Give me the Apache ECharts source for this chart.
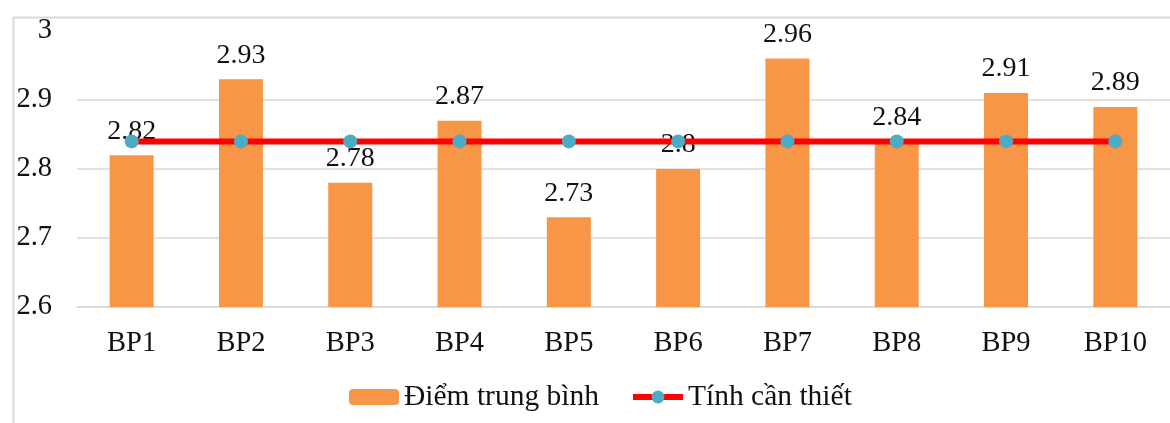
<!DOCTYPE html>
<html>
<head>
<meta charset="utf-8">
<script src="https://cdn.jsdelivr.net/npm/echarts@6/dist/echarts.min.js"></script>
<style>
  html, body { margin: 0; padding: 0; background: #fff; }
  #chart { width: 1170px; height: 423px; }
</style>
</head>
<body>
<div id="chart"></div>
<script>
// Categories and values
const categories = ['BP1', 'BP2', 'BP3', 'BP4', 'BP5', 'BP6', 'BP7', 'BP8', 'BP9', 'BP10'];
const averageScore = [2.82, 2.93, 2.78, 2.87, 2.73, 2.8, 2.96, 2.84, 2.91, 2.89];
const necessity = [2.84, 2.84, 2.84, 2.84, 2.84, 2.84, 2.84, 2.84, 2.84, 2.84];
const seriesNames = ['Điểm trung bình', 'Tính cần thiết'];
const yMin = 2.6, yMax = 3, yStep = 0.1;

const FONT = '"Liberation Serif", "Times New Roman", serif';
const TEXT = '#111111';
const GRID = '#d9d9d9';

const chart = echarts.init(document.getElementById('chart'), null, { renderer: 'canvas' });

chart.setOption({
  animation: false,
  backgroundColor: '#ffffff',
  textStyle: { fontFamily: FONT, color: TEXT },
  graphic: [{
    type: 'rect',
    left: 11, top: 15,
    shape: { width: 1200, height: 500 },
    style: { fill: 'none', stroke: GRID, lineWidth: 2 },
    silent: true,
    z: -1
  }],
  grid: { left: 77, top: 31, width: 1102, height: 276, containLabel: false },
  legend: {
    left: 344, top: 377,
    itemWidth: 50, itemHeight: 16, itemGap: 31,
    lineStyle: { width: 6 },
    textStyle: { fontFamily: FONT, fontSize: 29.5, color: TEXT },
    data: seriesNames
  },
  xAxis: {
    type: 'category',
    data: categories,
    axisLine: { show: true, lineStyle: { color: GRID, width: 1.5 } },
    axisTick: { show: false },
    axisLabel: { fontFamily: FONT, fontSize: 28.5, color: TEXT, margin: 22 }
  },
  yAxis: {
    type: 'value',
    min: yMin, max: yMax, interval: yStep,
    axisLine: { show: false },
    axisTick: { show: false },
    splitLine: { show: true, showMaxLine: false, lineStyle: { color: GRID, width: 1.5 } },
    axisLabel: {
      fontFamily: FONT, fontSize: 28.5, color: TEXT, margin: 25,
      formatter: v => String(Math.round(v * 10) / 10)
    }
  },
  series: [
    {
      name: seriesNames[0],
      type: 'bar',
      data: averageScore,
      barWidth: 44,
      itemStyle: { color: '#f79646' },
      label: {
        show: true, position: 'top', distance: 10,
        fontFamily: FONT, fontSize: 28, color: TEXT,
        formatter: p => String(p.value)
      },
      z: 2
    },
    {
      name: seriesNames[1],
      type: 'line',
      data: necessity,
      symbol: 'circle',
      symbolSize: 14,
      lineStyle: { color: '#ff0000', width: 6 },
      itemStyle: { color: '#4bacc6' },
      z: 10
    }
  ]
});
</script>
</body>
</html>
